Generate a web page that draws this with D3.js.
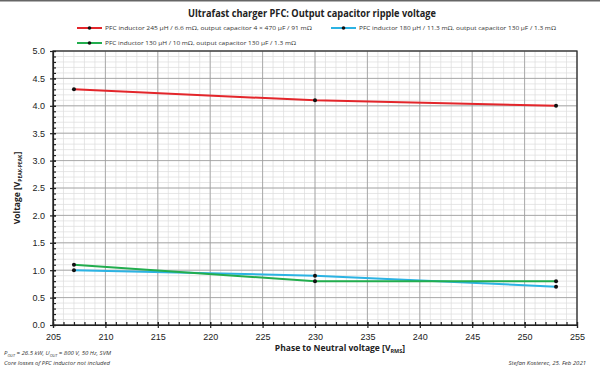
<!DOCTYPE html>
<html>
<head>
<meta charset="utf-8">
<script src="https://cdn.jsdelivr.net/npm/d3@7"></script>
<style>
  body { margin: 0; background: #fff; }
  svg { font-family: 'Open Sans', 'Noto Sans', sans-serif; }
</style>
</head>
<body>
<svg id="chart"></svg>
<script>
// data
const voltages = [207, 230, 253]
const seriesNames = [
  'PFC inductor 245 \u00b5H / 6.6 m\u03a9, output capacitor 4 \u00d7 470 \u00b5F / 91 m\u03a9',
  'PFC inductor 180 \u00b5H / 11.3 m\u03a9, output capacitor 130 \u00b5F / 1.3 m\u03a9',
  'PFC inductor 130 \u00b5H / 10 m\u03a9, output capacitor 130 \u00b5F / 1.3 m\u03a9'
]
const redValues = [4.3, 4.1, 4.0]
const blueValues = [1.0, 0.9, 0.7]
const greenValues = [1.1, 0.8, 0.8]
const colors = ['#e3262b', '#2cb3e3', '#22ad4e']
const xTicks = d3.range(205, 256, 5)
const yTicks = d3.range(0, 5.01, 0.5)

const width = 600
const height = 370
const margin = { top: 51, right: 23, bottom: 45, left: 53 }

const svg = d3.select('#chart')
  .attr('width', width)
  .attr('height', height)

// thin frame line at the very top
svg.append('rect')
  .attr('x', 0).attr('y', 0)
  .attr('width', width).attr('height', 1.5)
  .attr('fill', '#666')

const x = d3.scaleLinear()
  .domain([205, 255])
  .range([margin.left, width - margin.right])

const y = d3.scaleLinear()
  .domain([0, 5])
  .range([height - margin.bottom, margin.top])

// minor grid
const g = svg.append('g')
g.selectAll('line.vminor')
  .data(d3.range(205, 256, 1))
  .enter().append('line')
  .attr('x1', d => x(d)).attr('x2', d => x(d))
  .attr('y1', y(0)).attr('y2', y(5))
  .attr('stroke', '#dcdcdc').attr('stroke-width', 0.7)
g.selectAll('line.hminor')
  .data(d3.range(0, 51, 1).map(d => d / 10))
  .enter().append('line')
  .attr('y1', d => y(d)).attr('y2', d => y(d))
  .attr('x1', x(205)).attr('x2', x(255))
  .attr('stroke', '#dcdcdc').attr('stroke-width', 0.7)

// major grid
g.selectAll('line.vmajor')
  .data(xTicks)
  .enter().append('line')
  .attr('x1', d => x(d)).attr('x2', d => x(d))
  .attr('y1', y(0)).attr('y2', y(5))
  .attr('stroke', '#9a9a9a').attr('stroke-width', 0.8)
g.selectAll('line.hmajor')
  .data(yTicks)
  .enter().append('line')
  .attr('y1', d => y(d)).attr('y2', d => y(d))
  .attr('x1', x(205)).attr('x2', x(255))
  .attr('stroke', '#9a9a9a').attr('stroke-width', 0.8)

// frame
svg.append('rect')
  .attr('x', x(205)).attr('y', y(5))
  .attr('width', x(255) - x(205)).attr('height', y(0) - y(5))
  .attr('fill', 'none').attr('stroke', '#333').attr('stroke-width', 1.3)

// axes
const xAxis = svg.append('g')
  .attr('transform', `translate(0,${y(0)})`)
  .call(d3.axisBottom(x).tickValues(xTicks).tickSize(3).tickPadding(6))
svg.append('g')
  .attr('transform', `translate(0,${y(0)})`)
  .call(d3.axisTop(x).ticks(50).tickSize(3).tickFormat(''))
  .call(a => a.select('.domain').remove())
xAxis.selectAll('line').attr('transform', 'translate(0,-3)').attr('y2', 6)

const yAxis = svg.append('g')
  .attr('transform', `translate(${x(205)},0)`)
  .call(d3.axisLeft(y).tickValues(yTicks).tickFormat(d3.format('.1f')).tickSize(3).tickPadding(5))
svg.append('g')
  .attr('transform', `translate(${x(205)},0)`)
  .call(d3.axisRight(y).ticks(50).tickSize(3).tickFormat(''))
  .call(a => a.select('.domain').remove())
yAxis.selectAll('line').attr('transform', 'translate(3,0)').attr('x2', -6)

svg.selectAll('.domain, .tick line').attr('stroke', '#222').attr('stroke-width', 1.2)
svg.selectAll('.tick text')
  .attr('font-size', 9)
  .attr('fill', '#222')

// series
const seriesValues = [redValues, blueValues, greenValues]
const line = d3.line()
  .x((d, i) => x(voltages[i]))
  .y(d => y(d))

seriesValues.forEach((vals, k) => {
  svg.append('path')
    .datum(vals)
    .attr('d', line)
    .attr('fill', 'none')
    .attr('stroke', colors[k])
    .attr('stroke-width', 2)
})
seriesValues.forEach(vals => {
  svg.append('g').selectAll('circle')
    .data(vals)
    .enter().append('circle')
    .attr('cx', (d, i) => x(voltages[i]))
    .attr('cy', d => y(d))
    .attr('r', 2)
    .attr('fill', '#111')
})

// title
svg.append('text')
  .attr('x', 312).attr('y', 17)
  .attr('text-anchor', 'middle')
  .attr('font-size', 11)
  .attr('font-weight', 'bold')
  .attr('fill', '#222')
  .attr('textLength', 248)
  .attr('lengthAdjust', 'spacingAndGlyphs')
  .text('Ultrafast charger PFC: Output capacitor ripple voltage')

// legend
const legendPos = [
  { x: 77, y: 28, w: 207 },
  { x: 331, y: 28, w: 197 },
  { x: 77, y: 43, w: 191 }
]
legendPos.forEach((p, k) => {
  const lg = svg.append('g').attr('transform', `translate(${p.x},${p.y})`)
  lg.append('line')
    .attr('x1', 0).attr('x2', 25)
    .attr('stroke', colors[k]).attr('stroke-width', 2)
  lg.append('circle').attr('cx', 12.5).attr('r', 1.8).attr('fill', '#111')
  lg.append('text')
    .attr('x', 28).attr('y', 2)
    .attr('font-size', 6)
    .attr('fill', '#333')
    .attr('textLength', p.w)
    .attr('lengthAdjust', 'spacingAndGlyphs')
    .text(seriesNames[k])
})

// axis titles
const xTitle = svg.append('text')
  .attr('x', 340).attr('y', 351)
  .attr('text-anchor', 'middle')
  .attr('font-size', 8.5)
  .attr('font-weight', 'bold')
  .attr('fill', '#222')
xTitle.append('tspan').text('Phase to Neutral voltage [V')
xTitle.append('tspan').attr('font-size', 5.5).attr('dy', 2).text('RMS')
xTitle.append('tspan').attr('dy', -2).text(']')

const yTitle = svg.append('text')
  .attr('transform', `translate(20,${(y(0) + y(5)) / 2}) rotate(-90)`)
  .attr('text-anchor', 'middle')
  .attr('font-size', 8.5)
  .attr('font-weight', 'bold')
  .attr('fill', '#222')
yTitle.append('tspan').text('Voltage [V')
yTitle.append('tspan').attr('font-size', 5).attr('dy', 2).text('PEAK-PEAK')
yTitle.append('tspan').attr('dy', -2).text(']')

// footnotes
const note1 = svg.append('text')
  .attr('x', 4).attr('y', 355)
  .attr('font-size', 6).attr('font-style', 'italic').attr('fill', '#333')
note1.append('tspan').text('P')
note1.append('tspan').attr('font-size', 4).attr('dy', 1.5).text('OUT')
note1.append('tspan').attr('dy', -1.5).text(' = 26.5 kW, U')
note1.append('tspan').attr('font-size', 4).attr('dy', 1.5).text('OUT')
note1.append('tspan').attr('dy', -1.5).text(' = 800 V, 50 Hz, SVM')

svg.append('text')
  .attr('x', 4).attr('y', 365)
  .attr('font-size', 6).attr('font-style', 'italic').attr('fill', '#333')
  .text('Core losses of PFC inductor not included')

svg.append('text')
  .attr('x', 586).attr('y', 365)
  .attr('text-anchor', 'end')
  .attr('font-size', 6).attr('font-style', 'italic').attr('fill', '#333')
  .text('Stefan Kosterec, 25. Feb 2021')
</script>
</body>
</html>
